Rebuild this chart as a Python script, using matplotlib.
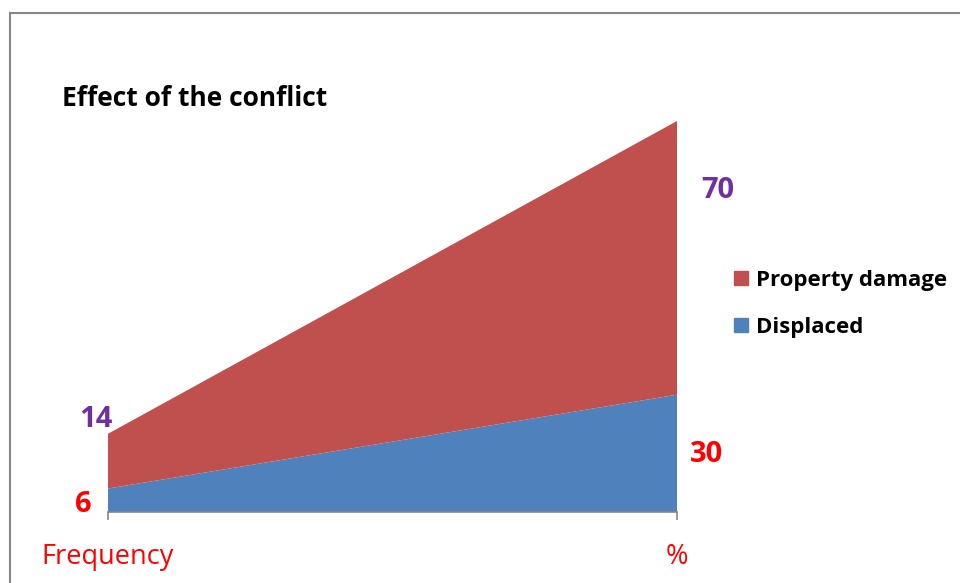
import matplotlib.pyplot as plt
from matplotlib.patches import Rectangle, Patch

# chart data
categories = ['Frequency', '%']
displaced = [6, 30]
property_damage = [14, 70]
series_names = ['Displaced', 'Property damage']

BLUE = '#4F81BD'
RED = '#C0504D'
PURPLE = '#7030A0'
LABEL_RED = '#FF0000'

plt.rcParams['font.family'] = ['Open Sans', 'DejaVu Sans']

W, H = 960, 583
fig = plt.figure(figsize=(W / 100, H / 100), dpi=100)

# grey frame round the chart area
fig.patches.append(Rectangle((10 / W, -0.05), 1.0, 1 - 13 / H + 0.05, transform=fig.transFigure,
                             fill=False, edgecolor='#888888', linewidth=1.5))

ax = fig.add_axes([108 / W, (H - 512) / H, (677 - 108) / W, (512 - 121) / H])
x = list(range(len(categories)))
ax.stackplot(x, displaced, property_damage, colors=[BLUE, RED], labels=series_names)
ax.set_xlim(0, 1)
ax.set_ylim(0, 100)

for side in ['top', 'right', 'left']:
    ax.spines[side].set_visible(False)
ax.spines['bottom'].set_color('#868686')
ax.spines['bottom'].set_linewidth(1.2)
ax.set_yticks([])
ax.set_xticks(x, categories)
ax.tick_params(axis='x', length=6, width=1.2, color='#868686', pad=16,
               labelsize=19.5, labelcolor=LABEL_RED)

# value labels next to the stacked edges
def px(v):
    return v * 0.72

tops = [d + p for d, p in zip(displaced, property_damage)]
lbl = dict(textcoords='offset points', ha='center', va='center', fontsize=21,
           fontweight='bold', annotation_clip=False)
ax.annotate(str(property_damage[0]), (0, tops[0]), xytext=(px(-12), px(14)), color=PURPLE, **lbl)
ax.annotate(str(displaced[0]), (0, displaced[0]), xytext=(px(-25), px(-16)), color=LABEL_RED, **lbl)
ax.annotate(str(property_damage[1]), (1, tops[1]), xytext=(px(41), px(-69)), color=PURPLE, **lbl)
ax.annotate(str(displaced[1]), (1, displaced[1]), xytext=(px(30), px(-60)), color=LABEL_RED, **lbl)

fig.text(62 / W, 1 - 98 / H, 'Effect of the conflict', fontsize=19, fontweight='bold',
         ha='left', va='center')

handles = [Patch(color=RED), Patch(color=BLUE)]
fig.legend(handles, ['Property damage', 'Displaced'], loc='upper left',
           bbox_to_anchor=(714 / W, 1 - 250 / H), frameon=False,
           prop={'size': 16, 'weight': 'bold'}, handlelength=0.62, handleheight=0.62,
           handletextpad=0.35, labelspacing=1.15)

fig.savefig('out.png', dpi=100)
